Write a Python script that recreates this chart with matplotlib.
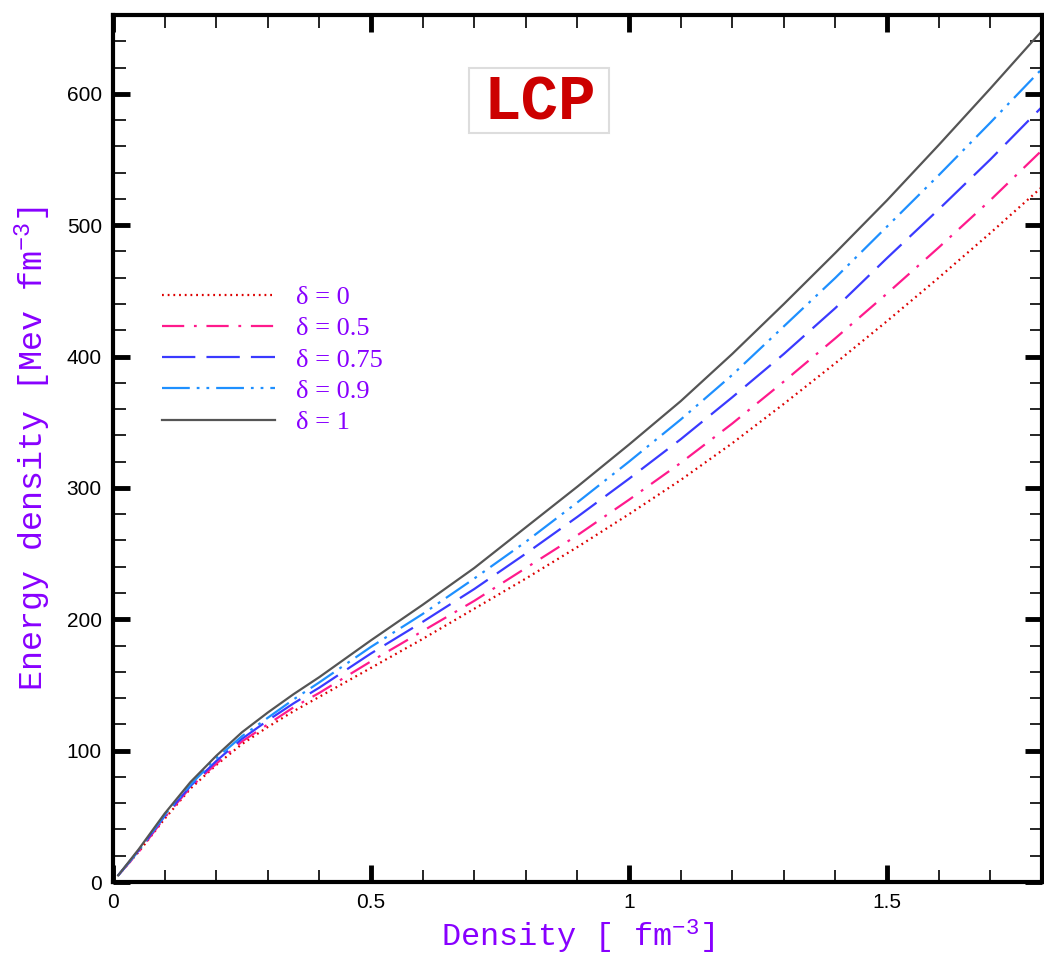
import matplotlib
matplotlib.use("Agg")
import matplotlib.pyplot as plt
from matplotlib.patches import Rectangle
from matplotlib.ticker import MultipleLocator

plt.rcParams["lines.scale_dashes"] = False
plt.rcParams["mathtext.default"] = "regular"

# density (fm^-3) and energy density (MeV fm^-3)
density = [0.01, 0.05, 0.1, 0.15, 0.2, 0.25, 0.3, 0.35, 0.4, 0.5, 0.6, 0.7,
           0.8, 0.9, 1.0, 1.1, 1.2, 1.3, 1.4, 1.5, 1.6, 1.7, 1.8]
e_d0 = [5, 23, 48, 71, 89, 105, 118, 130, 141, 163, 185, 208,
        231, 255, 280, 306, 334, 364, 395, 427, 460, 494, 529]
e_d05 = [5, 23, 49, 72, 90, 107, 120, 133, 144, 168, 191, 214,
         239, 264, 291, 319, 349, 381, 414, 448, 483, 519, 557]
e_d075 = [5, 24, 50, 73, 92, 109, 123, 136, 148, 174, 198, 223,
          250, 278, 307, 337, 369, 402, 437, 475, 512, 550, 590]
e_d09 = [5, 24, 51, 74, 94, 111, 125, 139, 152, 179, 204, 231,
         259, 289, 320, 352, 386, 423, 460, 499, 538, 578, 619]
e_d1 = [5, 25, 52, 76, 96, 114, 129, 143, 156, 184, 211, 239,
        270, 301, 333, 366, 402, 440, 479, 519, 561, 604, 648]

labels = ["δ = 0", "δ = 0.5", "δ = 0.75", "δ = 0.9", "δ = 1"]
series = [e_d0, e_d05, e_d075, e_d09, e_d1]
colors = ["#dd0000", "#ff1a8c", "#3a3aff", "#1e90ff", "#555555"]
styles = [(0, (1.3, 2.8)), (0, (16, 7, 2, 7)), (0, (24, 8)),
          (0, (20, 5, 2, 5, 2, 5)), "-"]

purple = "#8800ff"

fig = plt.figure(figsize=(10.44, 9.61), dpi=100)
ax = fig.add_axes([0.1082, 0.0822, 0.8898, 0.9022])

for ys, lab, c, ls in zip(series, labels, colors, styles):
    ax.plot(density, ys, color=c, linestyle=ls, linewidth=1.6, label=lab)

ax.set_xlim(0, 1.8)
ax.set_ylim(0, 660)
ax.xaxis.set_minor_locator(MultipleLocator(0.1))
ax.yaxis.set_major_locator(MultipleLocator(100))
ax.yaxis.set_minor_locator(MultipleLocator(20))
ax.set_xticks([0, 0.5, 1, 1.5])
ax.set_xticklabels(["0", "0.5", "1", "1.5"])

ax.tick_params(which="both", direction="in", top=True, right=True,
               labelsize=15, labelfontfamily="Liberation Sans")
ax.tick_params(which="major", length=12, width=3.5, pad=8)
ax.tick_params(which="minor", length=9, width=1.2)
for sp in ax.spines.values():
    sp.set_linewidth(3)

ax.set_xlabel("Density [ fm$^{-3}$]", family="Liberation Mono",
              fontsize=23, color=purple, labelpad=4)
ax.set_ylabel("Energy density [Mev fm$^{-3}$]", family="Liberation Mono",
              fontsize=24, color=purple, labelpad=10)

# LCP title box
ax.add_patch(Rectangle((0.3835, 0.8639), 0.1504, 0.075, transform=ax.transAxes,
                       facecolor="white", edgecolor="#dddddd", linewidth=1.5,
                       zorder=3))
ax.text(0.4592, 0.879, "LCP", transform=ax.transAxes, ha="center",
        va="baseline", family="Liberation Mono", fontweight="bold",
        fontsize=45, color="#cc0000", zorder=4)

leg = ax.legend(loc="upper left", bbox_to_anchor=(0.027, 0.715), frameon=False,
                handlelength=4.3, handletextpad=0.8, labelspacing=0.29,
                prop={"family": "Liberation Serif", "size": 19},
                labelcolor=purple)

fig.savefig("out.png", dpi=100)
